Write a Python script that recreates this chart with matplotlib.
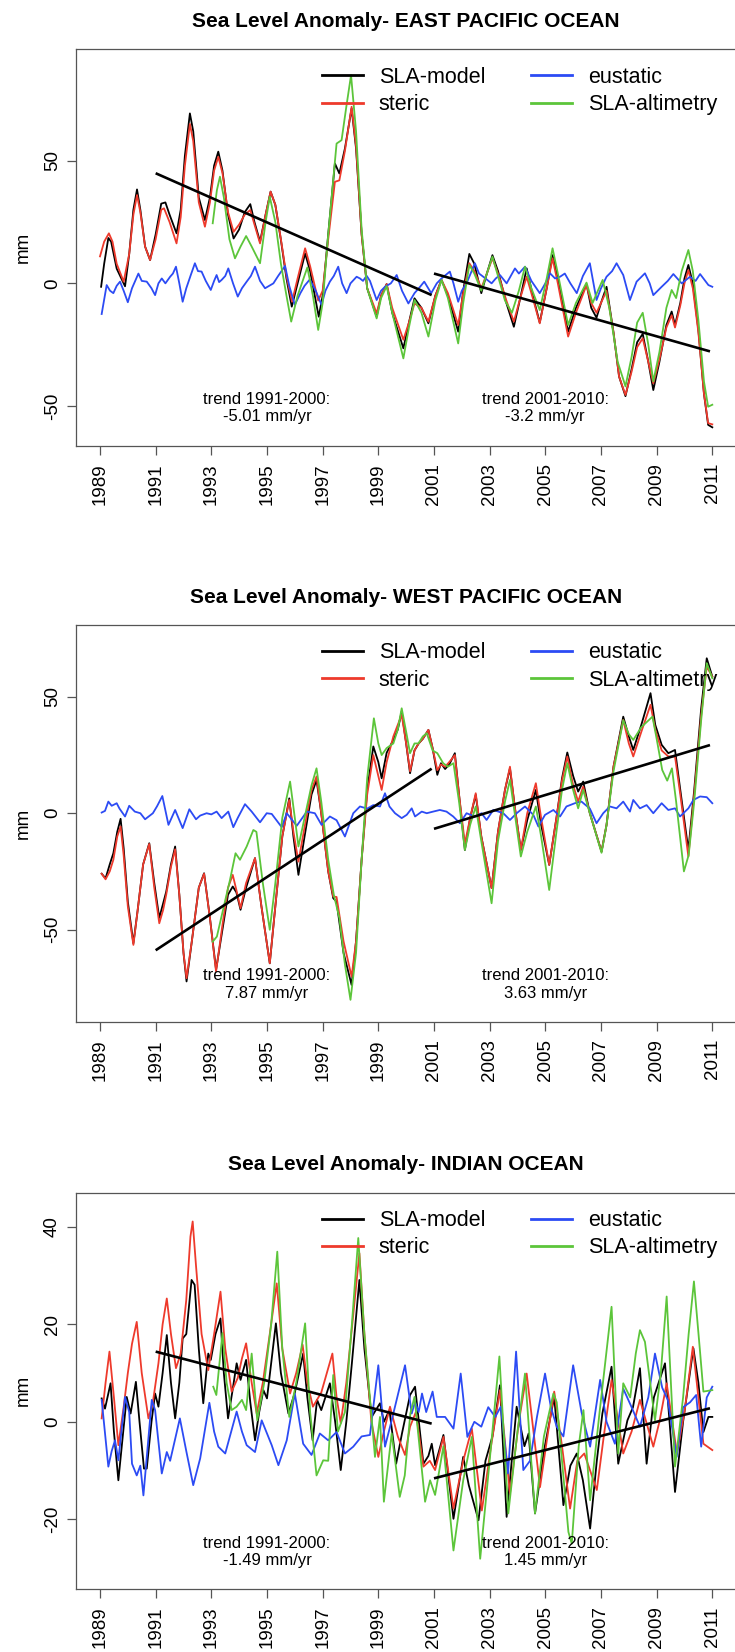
import matplotlib
matplotlib.use("Agg")
import matplotlib.pyplot as plt
import numpy as np

plt.rcParams["font.family"] = ["Liberation Sans", "DejaVu Sans"]

# ---------------------------------------------------------------- data (year, mm)
years_ticks = list(range(1989, 2012, 2))
series_names = ["SLA-model", "steric", "eustatic", "SLA-altimetry"]
trend_periods = [(1991, 2000), (2001, 2010)]
trend_label_years = [1995, 2005]

# East Pacific
east_model = [
    (1989.04, -1.4), (1989.15, 8), (1989.3, 18.5), (1989.4, 17), (1989.6, 6), (1989.9, -1.2),
    (1990.05, 12), (1990.2, 30), (1990.33, 38.3), (1990.45, 30), (1990.62, 15), (1990.8, 9.5),
    (1991.0, 20), (1991.2, 32.5), (1991.35, 33), (1991.5, 28), (1991.75, 20.4), (1991.9, 30),
    (1992.05, 52), (1992.23, 69.3), (1992.35, 62), (1992.55, 35), (1992.77, 25.8), (1992.95, 35),
    (1993.1, 48), (1993.25, 53.7), (1993.4, 46), (1993.6, 28), (1993.8, 18.3), (1994.0, 22),
    (1994.2, 29), (1994.4, 32.3), (1994.55, 25), (1994.75, 17), (1994.95, 28), (1995.13, 37.4),
    (1995.3, 32), (1995.5, 17.7), (1995.7, 2), (1995.89, -9.5), (1996.1, 0), (1996.37, 12.2),
    (1996.55, 5), (1996.86, -13.6), (1997.0, -5), (1997.2, 20), (1997.44, 48.9), (1997.6, 44.8),
    (1997.8, 55), (1998.04, 71.3), (1998.2, 55), (1998.4, 20), (1998.6, -2), (1998.94, -13.6),
    (1999.1, -5), (1999.3, -0.3), (1999.5, -12), (1999.9, -26.5), (2000.1, -16), (2000.3, -6.1),
    (2000.55, -10), (2000.8, -16.3), (2001.05, -5), (2001.27, 1.4), (2001.5, -5), (2001.87, -19.7),
    (2002.05, -3), (2002.27, 12), (2002.45, 8), (2002.7, -4), (2002.9, 4), (2003.1, 11.5),
    (2003.3, 5), (2003.6, -8), (2003.87, -17.7), (2004.1, -6), (2004.33, 6.1), (2004.55, -5),
    (2004.8, -16), (2005.05, -2), (2005.26, 11.5), (2005.45, 2), (2005.82, -19.7), (2006.1, -10),
    (2006.48, -0.3), (2006.65, -10), (2006.84, -14), (2007.0, -8), (2007.2, -1.4), (2007.45, -20),
    (2007.65, -38), (2007.88, -46), (2008.1, -35), (2008.3, -24), (2008.5, -20.6), (2008.7, -32),
    (2008.88, -43.5), (2009.1, -32), (2009.35, -17), (2009.54, -11.5), (2009.66, -17), (2009.85, -8),
    (2010.0, 2), (2010.14, 7.5), (2010.3, 0), (2010.5, -19), (2010.7, -45), (2010.85, -57.7),
    (2011.0, -58.7),
]
east_steric = [
    (1989.0, 11), (1989.15, 17), (1989.32, 20.4), (1989.45, 17), (1989.6, 8), (1989.85, 0.7),
    (1990.05, 12), (1990.2, 28), (1990.33, 36), (1990.45, 29), (1990.62, 15), (1990.8, 9.5),
    (1991.0, 18), (1991.2, 30), (1991.3, 30.6), (1991.5, 25), (1991.75, 16.3), (1991.9, 27),
    (1992.05, 48), (1992.23, 65), (1992.35, 58), (1992.55, 33), (1992.77, 23.1), (1992.95, 33),
    (1993.1, 46), (1993.25, 51.6), (1993.4, 45), (1993.6, 29), (1993.8, 21), (1994.0, 24),
    (1994.2, 28), (1994.4, 29.9), (1994.55, 24), (1994.75, 16.3), (1994.95, 28), (1995.13, 37.4),
    (1995.3, 32), (1995.5, 18), (1995.7, 3), (1995.9, -7.5), (1996.1, 2), (1996.37, 14.3),
    (1996.55, 7), (1996.84, -7), (1997.0, -3), (1997.2, 18), (1997.44, 41.4), (1997.6, 42),
    (1997.8, 54), (1998.04, 72), (1998.2, 56), (1998.4, 20), (1998.6, -2), (1998.94, -12.2),
    (1999.1, -5), (1999.3, -0.3), (1999.5, -10), (1999.9, -23), (2000.1, -16), (2000.3, -8.2),
    (2000.55, -10), (2000.8, -15.6), (2001.05, -5), (2001.27, 1.4), (2001.5, -4), (2001.87, -17),
    (2002.05, -4), (2002.27, 8.2), (2002.45, 5), (2002.7, -2), (2002.9, 4), (2003.1, 10.2),
    (2003.3, 4), (2003.6, -7), (2003.87, -15.6), (2004.1, -6), (2004.33, 2.7), (2004.55, -6),
    (2004.8, -16.3), (2005.05, -2), (2005.26, 10.2), (2005.45, 0), (2005.82, -21.7), (2006.1, -12),
    (2006.48, -0.7), (2006.65, -8), (2006.84, -12), (2007.0, -8), (2007.2, -3), (2007.45, -20),
    (2007.65, -38), (2007.88, -45.5), (2008.1, -36), (2008.3, -26), (2008.5, -22.4), (2008.7, -32),
    (2008.88, -40.8), (2009.1, -31), (2009.35, -18), (2009.54, -13), (2009.66, -18), (2009.85, -9),
    (2010.0, 0), (2010.14, 5.4), (2010.3, -2), (2010.5, -20), (2010.7, -45), (2010.85, -57),
    (2011.0, -57.5),
]
east_eustatic = [
    (1989.06, -12.5), (1989.24, -0.7), (1989.36, -3), (1989.48, -4), (1989.6, -1), (1989.72, 0.7),
    (1989.85, -3), (1990.0, -7.7), (1990.15, -2), (1990.38, 4), (1990.5, 1), (1990.68, 0.7),
    (1990.85, -2), (1990.98, -4.8), (1991.1, 0), (1991.22, 2), (1991.35, 0), (1991.52, 2.7),
    (1991.62, 4), (1991.73, 6.8), (1991.85, 0), (1991.97, -7.5), (1992.1, -2), (1992.25, 3),
    (1992.41, 8.2), (1992.52, 5), (1992.65, 4.8), (1992.8, 1), (1992.98, -2.7), (1993.1, 1),
    (1993.19, 3.4), (1993.28, 0.5), (1993.37, 1.4), (1993.5, 3), (1993.61, 6.1), (1993.78, 0),
    (1993.95, -5.4), (1994.1, -2), (1994.27, 0.7), (1994.42, 3), (1994.57, 6.8), (1994.75, 1),
    (1994.93, -2), (1995.08, -1), (1995.23, 0), (1995.4, 3), (1995.65, 7.1), (1995.8, -1),
    (1996.0, -8.8), (1996.2, -4), (1996.35, -1), (1996.54, 1.6), (1996.75, -3), (1996.96, -8.8),
    (1997.1, -3), (1997.26, 0.7), (1997.4, 3), (1997.56, 6.8), (1997.7, 0), (1997.86, -4),
    (1998.0, 0), (1998.22, 2.7), (1998.34, 2), (1998.45, 1), (1998.58, 3.1), (1998.7, 1),
    (1998.94, -6.8), (1999.1, -3), (1999.24, -1.4), (1999.45, 0), (1999.66, 3.4), (1999.85, -3),
    (2000.08, -8.2), (2000.3, -4), (2000.5, -1.4), (2000.65, 0.7), (2000.9, -4), (2001.1, 0),
    (2001.27, 2), (2001.57, 4.8), (2001.7, 0), (2001.87, -7.5), (2002.0, -3), (2002.17, 0),
    (2002.47, 8.2), (2002.62, 4), (2002.77, 2.7), (2003.07, 0), (2003.22, 2), (2003.37, 3.4),
    (2003.61, 0), (2003.91, 6.1), (2004.05, 4), (2004.27, 6.8), (2004.5, 1), (2004.8, -4),
    (2005.0, 0), (2005.17, 4.1), (2005.35, 2), (2005.53, 2.7), (2005.7, 4), (2005.9, 0),
    (2006.13, -4), (2006.35, 3), (2006.6, 8.2), (2006.84, -6.8), (2007.0, -2), (2007.2, 2.7),
    (2007.4, 5), (2007.56, 8.2), (2007.8, 3.4), (2008.04, -6.8), (2008.28, 0.7), (2008.58, 4.1),
    (2008.75, 0), (2008.88, -4.8), (2009.18, -1.4), (2009.4, 1), (2009.6, 3.8), (2009.9, 0),
    (2010.2, 2.7), (2010.4, 1), (2010.56, 3.8), (2010.86, -0.7), (2011.0, -1.4),
]
east_altimetry = [
    (1993.05, 24.5), (1993.2, 38), (1993.31, 43.5), (1993.45, 35), (1993.65, 18), (1993.85, 10.2),
    (1994.05, 15), (1994.25, 19.3), (1994.45, 15), (1994.75, 8.2), (1994.95, 25), (1995.1, 35.3),
    (1995.3, 25), (1995.5, 8), (1995.7, -5), (1995.87, -15.6), (1996.1, -5), (1996.45, 6.5),
    (1996.65, -5), (1996.84, -19), (1997.0, -8), (1997.2, 20), (1997.5, 57), (1997.68, 58.4),
    (1997.85, 72), (1998.02, 84.9), (1998.2, 62), (1998.4, 22), (1998.6, -2), (1998.94, -14.3),
    (1999.1, -6), (1999.3, -1.1), (1999.5, -12), (1999.9, -30.6), (2000.1, -18), (2000.3, -6.8),
    (2000.55, -12), (2000.8, -21.7), (2001.05, -7), (2001.27, 1.4), (2001.5, -6), (2001.87, -24.5),
    (2002.05, -8), (2002.27, 7.5), (2002.45, 4), (2002.7, -3), (2002.9, 4), (2003.1, 10.9),
    (2003.3, 3), (2003.55, -7), (2003.8, -12), (2004.05, -3), (2004.27, 6.8), (2004.5, -2),
    (2004.8, -10.9), (2005.05, 2), (2005.26, 14.3), (2005.45, 4), (2005.82, -17), (2006.1, -8),
    (2006.48, 0.3), (2006.7, -8), (2006.85, -4), (2007.06, 1.4), (2007.3, -10), (2007.6, -32),
    (2007.88, -42), (2008.1, -30), (2008.3, -16), (2008.5, -12), (2008.7, -25), (2008.88, -40),
    (2009.1, -28), (2009.35, -10), (2009.54, -2.7), (2009.7, -6), (2009.9, 5), (2010.14, 13.6),
    (2010.3, 5), (2010.5, -15), (2010.7, -40), (2010.85, -50.3), (2011.0, -49.5),
]
east_trend_slopes = [-5.01, -3.2]
east_trend_starts = [44.9, 4.0]

# West Pacific
west_model = [
    (1989.06, -26), (1989.2, -28), (1989.35, -22), (1989.48, -17.2), (1989.62, -8), (1989.74, -2.4),
    (1989.85, -15), (1990.0, -38), (1990.2, -55.9), (1990.35, -42), (1990.55, -22), (1990.77, -12.9),
    (1990.95, -30), (1991.13, -45), (1991.27, -38.7), (1991.38, -33.7), (1991.55, -22), (1991.7, -14.3),
    (1991.85, -35), (1992.0, -60), (1992.11, -72.3), (1992.3, -55), (1992.55, -32), (1992.74, -25.8),
    (1992.95, -45), (1993.17, -67.3), (1993.4, -50), (1993.6, -35), (1993.77, -31.5), (1993.9, -34),
    (1994.05, -41.5), (1994.25, -32), (1994.57, -19.3), (1994.8, -40), (1995.1, -64.5), (1995.3, -40),
    (1995.55, -10), (1995.8, 6.4), (1995.95, -10), (1996.13, -26.5), (1996.35, -10), (1996.6, 8),
    (1996.78, 14.3), (1996.95, 0), (1997.2, -25), (1997.38, -36.5), (1997.5, -38), (1997.75, -60),
    (1998.04, -73.8), (1998.2, -55), (1998.4, -20), (1998.6, 10), (1998.82, 28.7), (1999.0, 22),
    (1999.12, 15), (1999.3, 26), (1999.54, 31.5), (1999.7, 36), (1999.84, 43.7), (2000.0, 30),
    (2000.14, 17.2), (2000.3, 27), (2000.45, 30), (2000.6, 32), (2000.8, 35.8), (2000.95, 28),
    (2001.12, 16.5), (2001.25, 21.5), (2001.4, 19), (2001.55, 21), (2001.75, 25.8), (2001.9, 8),
    (2002.11, -15.8), (2002.3, -2), (2002.5, 7.9), (2002.7, -10), (2003.07, -32.2), (2003.3, -8),
    (2003.55, 10), (2003.73, 19.3), (2003.9, 3), (2004.12, -15.8), (2004.35, -3), (2004.66, 10),
    (2004.85, -5), (2005.14, -22.2), (2005.4, -2), (2005.6, 15), (2005.79, 26.1), (2006.0, 16),
    (2006.18, 9.3), (2006.36, 13.6), (2006.6, 0), (2007.02, -16.5), (2007.2, -5), (2007.45, 20),
    (2007.8, 41.5), (2008.0, 33), (2008.16, 27.2), (2008.45, 38), (2008.78, 51.6), (2008.95, 38),
    (2009.18, 29.4), (2009.42, 25.8), (2009.66, 27.2), (2009.85, 10), (2010.14, -15.8), (2010.35, 10),
    (2010.6, 45), (2010.8, 66.6), (2011.0, 58.7),
]
west_steric = [
    (1989.06, -26), (1989.2, -28.4), (1989.35, -25), (1989.48, -20), (1989.62, -10), (1989.74, -5.7),
    (1989.85, -18), (1990.0, -40), (1990.2, -56.6), (1990.35, -42), (1990.55, -22), (1990.77, -13.2),
    (1990.95, -32), (1991.13, -47.3), (1991.27, -41.5), (1991.38, -35), (1991.55, -23), (1991.7, -15.5),
    (1991.85, -35), (1992.0, -60), (1992.11, -70.9), (1992.3, -55), (1992.55, -32), (1992.74, -26),
    (1992.95, -45), (1993.17, -68), (1993.4, -48), (1993.6, -32), (1993.77, -26.5), (1993.9, -33),
    (1994.05, -40.8), (1994.25, -30), (1994.57, -19.3), (1994.8, -40), (1995.1, -64.5), (1995.3, -40),
    (1995.55, -10), (1995.8, 5.7), (1995.95, -8), (1996.13, -20.8), (1996.35, -6), (1996.6, 10),
    (1996.78, 15.8), (1996.95, 0), (1997.2, -25), (1997.38, -35.8), (1997.5, -36), (1997.75, -55),
    (1998.04, -70.2), (1998.2, -55), (1998.4, -20), (1998.6, 8), (1998.82, 25), (1999.0, 16),
    (1999.12, 10), (1999.3, 22), (1999.54, 33), (1999.7, 38), (1999.84, 42.3), (2000.0, 30),
    (2000.14, 18), (2000.3, 27), (2000.45, 30), (2000.6, 32), (2000.8, 35.8), (2000.95, 28),
    (2001.12, 18.5), (2001.25, 21), (2001.4, 20), (2001.55, 22), (2001.75, 25), (2001.9, 8),
    (2002.11, -13), (2002.3, -2), (2002.5, 8.6), (2002.7, -10), (2003.07, -32.2), (2003.3, -8),
    (2003.55, 10), (2003.73, 20), (2003.9, 3), (2004.12, -15.8), (2004.35, 0), (2004.66, 12.9),
    (2004.85, -2), (2005.14, -22.2), (2005.4, -2), (2005.6, 14), (2005.79, 24.4), (2006.0, 12),
    (2006.18, 5), (2006.36, 11.5), (2006.6, 0), (2007.02, -16.5), (2007.2, -5), (2007.45, 20),
    (2007.8, 40.1), (2008.0, 30), (2008.16, 24.4), (2008.45, 35), (2008.78, 46.6), (2008.95, 36),
    (2009.18, 27), (2009.42, 24.4), (2009.66, 24.4), (2009.85, 8), (2010.14, -18.6), (2010.35, 8),
    (2010.6, 42), (2010.8, 63), (2011.0, 58.7),
]
west_eustatic = [
    (1989.06, 0.3), (1989.18, 1), (1989.3, 5), (1989.42, 3.2), (1989.52, 3.8), (1989.6, 4.3),
    (1989.7, 2), (1989.9, -1.4), (1990.05, 3.2), (1990.25, 0.7), (1990.45, 0), (1990.62, -2.6),
    (1990.9, 0), (1991.05, 3), (1991.24, 7.4), (1991.46, -5), (1991.7, 1.4), (1991.97, -6.4),
    (1992.21, 1.7), (1992.45, -2.6), (1992.6, -1), (1992.83, 0), (1993.0, -0.5), (1993.19, 0.7),
    (1993.37, -2.1), (1993.61, 0.7), (1993.79, -6), (1993.95, -2), (1994.21, 3.9), (1994.45, 0.7),
    (1994.75, -3.9), (1994.99, 0), (1995.17, -0.3), (1995.53, -6), (1995.71, 0), (1996.07, -5.4),
    (1996.43, 0.7), (1996.72, 0), (1996.96, -5), (1997.26, -1.4), (1997.5, -3), (1997.8, -10),
    (1998.1, 0), (1998.34, 2.9), (1998.6, 2), (1998.82, 3.5), (1999.06, 2.9), (1999.24, 8.6),
    (1999.4, 2.9), (1999.6, 0), (1999.84, -2.1), (2000.02, -0.7), (2000.2, 2.1), (2000.32, -1.4),
    (2000.56, 0.7), (2000.74, 0), (2000.97, 0.7), (2001.21, 1.4), (2001.45, 0.7), (2001.69, -1.4),
    (2001.93, -4.3), (2002.17, 0), (2002.47, -1.4), (2002.71, 0), (2002.89, -2.9), (2003.13, 1.4),
    (2003.49, 0), (2003.73, -2.9), (2003.97, 0), (2004.27, 2.9), (2004.57, -0.7), (2004.75, -5.7),
    (2004.99, -0.7), (2005.29, 1.4), (2005.53, -1.4), (2005.76, 2.9), (2006.06, 4.3), (2006.3, 5),
    (2006.6, 2), (2006.84, -4.3), (2007.08, 0), (2007.32, 2.9), (2007.56, 2.1), (2007.8, 5),
    (2008.04, 0.7), (2008.16, 5.7), (2008.4, 2.1), (2008.64, 3.5), (2008.88, 0), (2009.18, 4.3),
    (2009.42, 1.4), (2009.66, 2.1), (2009.84, -1.4), (2010.14, 2.1), (2010.32, 5.7), (2010.56, 7.2),
    (2010.8, 6.9), (2011.0, 4.3),
]
west_altimetry = [
    (1993.05, -55.2), (1993.2, -53), (1993.45, -40), (1993.67, -28.7), (1993.87, -17.2), (1994.03, -20),
    (1994.27, -14.3), (1994.51, -7.2), (1994.62, -8), (1994.85, -30), (1995.1, -50.1), (1995.3, -30),
    (1995.55, -2), (1995.83, 13.6), (1996.0, -2), (1996.13, -14.3), (1996.35, -2), (1996.6, 12),
    (1996.78, 19.3), (1996.95, 5), (1997.2, -20), (1997.4, -35), (1997.6, -45), (1997.8, -65),
    (1998.0, -80.2), (1998.2, -60), (1998.4, -20), (1998.6, 15), (1998.84, 40.8), (1999.0, 30),
    (1999.12, 25), (1999.3, 28), (1999.54, 30), (1999.7, 36), (1999.84, 45.1), (2000.0, 35),
    (2000.14, 25.8), (2000.3, 30), (2000.44, 30), (2000.6, 33), (2000.74, 34.4), (2000.95, 27),
    (2001.12, 25.8), (2001.33, 21.5), (2001.5, 20), (2001.7, 21.5), (2001.9, 5), (2002.11, -15.8),
    (2002.3, -5), (2002.5, 2.9), (2002.7, -12), (2003.07, -38.7), (2003.3, -12), (2003.55, 5),
    (2003.73, 14.3), (2003.9, 0), (2004.12, -18.6), (2004.35, -8), (2004.66, 2.9), (2004.85, -10),
    (2005.14, -33), (2005.4, -8), (2005.6, 10), (2005.79, 21.5), (2006.0, 10), (2006.18, 2.1),
    (2006.36, 10), (2006.6, 0), (2007.02, -17), (2007.2, -5), (2007.45, 18), (2007.8, 40),
    (2008.0, 34), (2008.16, 31.5), (2008.45, 37), (2008.85, 41.5), (2009.0, 32), (2009.2, 18.6),
    (2009.38, 14), (2009.55, 19.3), (2009.7, 5), (2009.98, -25), (2010.15, -18), (2010.35, 5),
    (2010.6, 40), (2010.8, 64.5), (2011.0, 58),
]
west_trend_slopes = [7.87, 3.63]
west_trend_starts = [-58.9, -6.7]

# Indian Ocean
indian_model = [
    (1989.06, 4.8), (1989.18, 2.7), (1989.38, 7.9), (1989.5, -2), (1989.66, -12), (1989.8, -4),
    (1989.96, 5.1), (1990.1, 1.7), (1990.29, 8.2), (1990.42, 0), (1990.58, -9.6), (1990.68, -9.6),
    (1990.85, 0), (1990.98, 5.8), (1991.1, 3.1), (1991.25, 10), (1991.4, 17.8), (1991.55, 8),
    (1991.7, 0.7), (1991.85, 8), (1991.97, 17.1), (1992.1, 18), (1992.29, 29.1), (1992.4, 28.1),
    (1992.55, 15), (1992.71, 3.8), (1992.89, 14), (1992.98, 12.7), (1993.15, 18), (1993.33, 21.2),
    (1993.45, 10), (1993.6, 0.7), (1993.75, 6), (1993.91, 12), (1994.05, 8.6), (1994.25, 12.7),
    (1994.4, 4), (1994.57, -3.8), (1994.72, 2), (1994.87, 6.5), (1995.0, 4.8), (1995.15, 12),
    (1995.32, 20.2), (1995.5, 10), (1995.77, 1.7), (1996.0, 6), (1996.3, 14), (1996.45, 5),
    (1996.64, -3.8), (1996.8, 4.5), (1996.95, 2.4), (1997.26, 7.9), (1997.45, 0), (1997.65, -9.9),
    (1997.85, 0), (1998.05, 12), (1998.32, 29.1), (1998.5, 15), (1998.76, 1), (1999.06, 3.8),
    (1999.2, 0), (1999.4, 2.4), (1999.64, -8.6), (1999.85, -2.4), (2000.14, 5.5), (2000.32, 7.2),
    (2000.62, -8.6), (2000.8, -7), (2000.92, -4.5), (2001.04, -8.9), (2001.34, -2.7), (2001.7, -19.9),
    (2002.05, -7.2), (2002.25, -13), (2002.6, -20.2), (2002.85, -8), (2003.1, -3), (2003.37, 7.5),
    (2003.61, -19.5), (2003.97, 3.1), (2004.25, -5), (2004.4, -2.4), (2004.63, -18.8), (2004.95, -6),
    (2005.32, 5.1), (2005.65, -17.1), (2005.9, -9), (2006.13, -6.5), (2006.35, -12), (2006.61, -21.9),
    (2006.85, -8), (2007.05, 1.7), (2007.38, 11.3), (2007.62, -8.6), (2007.95, 0.3), (2008.15, 3),
    (2008.4, 11), (2008.64, -8.6), (2008.9, 5), (2009.3, 12), (2009.66, -14.4), (2009.95, 0),
    (2010.32, 15.1), (2010.5, 8), (2010.68, -2.1), (2010.86, 1), (2011.0, 1),
]
indian_steric = [
    (1989.06, 0.7), (1989.2, 8), (1989.34, 14.4), (1989.5, 5), (1989.66, -4.8), (1989.85, 3),
    (1990.0, 10), (1990.15, 16), (1990.32, 20.5), (1990.5, 10), (1990.74, 0.7), (1990.9, 4),
    (1991.1, 12), (1991.25, 20), (1991.4, 25.3), (1991.55, 18), (1991.73, 11), (1991.9, 14),
    (1992.1, 25), (1992.25, 38), (1992.33, 41.1), (1992.45, 32), (1992.65, 18), (1992.89, 10.6),
    (1993.1, 18), (1993.33, 26.7), (1993.5, 15), (1993.73, 6.2), (1993.95, 9), (1994.1, 13),
    (1994.25, 16.1), (1994.45, 8), (1994.63, 1.7), (1994.85, 8), (1995.1, 18), (1995.35, 28.4),
    (1995.55, 15), (1995.83, 5.8), (1996.05, 10), (1996.28, 15.8), (1996.45, 8), (1996.65, 3.1),
    (1996.95, 6), (1997.15, 10), (1997.35, 14), (1997.5, 5), (1997.65, -0.3), (1997.85, 8),
    (1998.1, 22), (1998.32, 34.6), (1998.5, 18), (1998.75, 0), (1999.0, -7.2), (1999.2, -2),
    (1999.42, 3.1), (1999.7, -3), (1999.96, -6.8), (2000.14, -1), (2000.35, 2), (2000.62, -9.2),
    (2000.85, -8), (2001.04, -9.9), (2001.34, -3.1), (2001.7, -17.8), (2002.05, -8), (2002.36, -1.4),
    (2002.72, -18.2), (2003.05, -5), (2003.37, 6.5), (2003.73, -14.7), (2004.05, 0), (2004.33, 9.9),
    (2004.81, -13.4), (2005.05, -4), (2005.32, 6.2), (2005.6, -5), (2005.89, -17.8), (2006.15, -8),
    (2006.4, -6.5), (2006.85, -14), (2007.1, -3), (2007.38, 8.6), (2007.8, -6.5), (2008.1, -2),
    (2008.4, 4.5), (2008.88, -5.1), (2009.1, 0), (2009.36, 7.9), (2009.73, -6.5), (2010.0, 2),
    (2010.3, 15.4), (2010.5, 5), (2010.68, -4.5), (2011.0, -5.8),
]
indian_eustatic = [
    (1989.06, 4.5), (1989.3, -9.2), (1989.42, -6), (1989.54, -3.8), (1989.66, -7.9), (1989.9, 5.1),
    (1990.05, 2), (1990.15, -8.6), (1990.32, -11), (1990.45, -9), (1990.56, -15.1), (1990.86, 4.5),
    (1990.98, 2.4), (1991.22, -10.6), (1991.4, -6.2), (1991.52, -8), (1991.87, 0.7), (1992.1, -6),
    (1992.35, -13), (1992.6, -7.5), (1992.93, 3.9), (1993.1, -2), (1993.25, -5.1), (1993.5, -6.5),
    (1993.91, 2.1), (1994.1, -2), (1994.27, -4.8), (1994.57, -6.2), (1994.81, 0.3), (1995.17, -4.8),
    (1995.41, -8.9), (1995.71, -3.8), (1996.0, 5.8), (1996.3, -4.5), (1996.6, -6.8), (1996.9, -2.4),
    (1997.2, -3.8), (1997.5, -2.1), (1997.8, -6.5), (1998.1, -5.1), (1998.4, -3), (1998.7, -2.7),
    (1999.0, 11.6), (1999.24, -5.1), (1999.48, 0.3), (1999.96, 11.6), (2000.2, 1.7), (2000.32, 4.1),
    (2000.45, 2), (2000.57, 5.8), (2000.72, 2), (2000.95, 6.2), (2001.1, 1), (2001.4, 1),
    (2001.7, -1.4), (2001.96, 9.9), (2002.2, -3.1), (2002.45, 0), (2002.7, -1), (2002.95, 3),
    (2003.2, 1), (2003.4, 3.1), (2003.66, -10.6), (2003.95, 14.4), (2004.21, -9.9), (2004.45, -8),
    (2004.7, 1), (2004.99, 9.9), (2005.2, 3), (2005.41, -1), (2005.65, -3), (2006.0, 11.6),
    (2006.3, 2), (2006.61, -5.1), (2006.97, 8.6), (2007.2, 0), (2007.5, -4.5), (2007.8, 6.8),
    (2008.1, 3), (2008.4, -1), (2008.7, 5), (2008.94, 14), (2009.2, 7), (2009.4, 4.5),
    (2009.72, -7.2), (2009.95, 3), (2010.2, 4), (2010.42, 5.5), (2010.6, -5.1), (2010.8, 5),
    (2011.0, 7.2),
]
indian_altimetry = [
    (1993.07, 7.2), (1993.18, 5.5), (1993.4, 18.2), (1993.55, 8), (1993.73, 2.4), (1993.91, 3.1),
    (1994.1, 4.5), (1994.25, 2.4), (1994.45, 14), (1994.65, 0.3), (1994.9, 8), (1995.15, 20),
    (1995.37, 34.9), (1995.55, 15), (1995.8, 1), (1996.05, 8), (1996.37, 20.2), (1996.55, 2),
    (1996.78, -11), (1997.02, -7.9), (1997.2, -8), (1997.38, 9.6), (1997.55, -2), (1997.8, 2),
    (1998.05, 20), (1998.28, 37.7), (1998.5, 18), (1998.88, -7.2), (1999.06, 1), (1999.2, -16.4),
    (1999.48, -2.4), (1999.77, -15.4), (1999.95, -11), (2000.15, 1.7), (2000.3, 5.1), (2000.68, -16.4),
    (2000.86, -12), (2001.04, -15), (2001.34, -5), (2001.7, -26.4), (2002.05, -12), (2002.36, -3.1),
    (2002.66, -28.1), (2003.0, -8), (2003.35, 13.4), (2003.67, -18.8), (2004.0, -2), (2004.27, 9.9),
    (2004.63, -18.8), (2004.95, -3), (2005.29, 5.8), (2005.41, 4), (2005.83, -22.6), (2005.95, -25),
    (2006.2, -5), (2006.37, 2.4), (2006.61, -16.1), (2006.95, 2), (2007.15, 12), (2007.38, 23.6),
    (2007.62, -6.5), (2007.8, 7.9), (2008.05, 5), (2008.25, 14), (2008.4, 18.8), (2008.58, 16.4),
    (2008.94, 0.3), (2009.15, 10), (2009.36, 25.7), (2009.66, -9.2), (2009.95, 5), (2010.15, 18),
    (2010.34, 28.8), (2010.55, 15), (2010.68, 6.2), (2011.0, 6.5),
]
indian_trend_slopes = [-1.49, 1.45]
indian_trend_starts = [14.4, -11.6]

# ---------------------------------------------------------------- styling
COLORS = ["#000000", "#EE3A2C", "#2C4BF4", "#5CC53A"]
SERIES_LW = 1.3
TREND_LW = 1.9
TICK_FS = 13.5
LEGEND_FS = 15.5
TEXT_FS = 12
TITLE_FS = 15
FRAME_COLOR = "#555555"

W, H = 735, 1652
fig = plt.figure(figsize=(W / 100, H / 100), dpi=100)

left_px, right_px = 75.5, 736.8
panels = [
    dict(title="Sea Level Anomaly- EAST PACIFIC OCEAN",
         series=[east_model, east_steric, east_eustatic, east_altimetry],
         slopes=east_trend_slopes, starts=east_trend_starts,
         top=49.4, bottom=445.7, ylim=(-66.2, 95.4), yticks=[-50, 0, 50], text_y=-50.8),
    dict(title="Sea Level Anomaly- WEST PACIFIC OCEAN",
         series=[west_model, west_steric, west_eustatic, west_altimetry],
         slopes=west_trend_slopes, starts=west_trend_starts,
         top=625.0, bottom=1021.7, ylim=(-89.6, 80.9), yticks=[-50, 0, 50], text_y=-73.6),
    dict(title="Sea Level Anomaly- INDIAN OCEAN",
         series=[indian_model, indian_steric, indian_eustatic, indian_altimetry],
         slopes=indian_trend_slopes, starts=indian_trend_starts,
         top=1192.7, bottom=1589.0, ylim=(-34.3, 47.0), yticks=[-20, 0, 20, 40], text_y=-26.7),
]

x_pad = 0.04 * (years_ticks[-1] - years_ticks[0])

for p in panels:
    height_px = p["bottom"] - p["top"]
    ax = fig.add_axes([left_px / W, 1 - p["bottom"] / H,
                       (right_px - left_px) / W, height_px / H])
    handles = []
    for data, name, color, z in zip(p["series"], series_names, COLORS, [2, 3, 4, 5]):
        t, v = np.array(data).T
        (ln,) = ax.plot(t, v, color=color, lw=SERIES_LW, zorder=z, label=name,
                        solid_joinstyle="round")
        handles.append(ln)

    # linear trends per decade, drawn from the stated slope
    for (y0, y1), a, s, xt in zip(trend_periods, p["starts"], p["slopes"], trend_label_years):
        tt = np.array([y0, y1 + 11 / 12])
        ax.plot(tt, a + s * (tt - y0), color="black", lw=TREND_LW, zorder=6,
                solid_capstyle="butt")
        ax.text(xt, p["text_y"], f"trend {y0}-{y1}:\n{s:g} mm/yr",
                ha="center", va="center", fontsize=TEXT_FS, linespacing=1.2, zorder=7)

    ax.set_xlim(years_ticks[0] - x_pad, years_ticks[-1] + x_pad)
    ax.set_ylim(*p["ylim"])
    ax.set_xticks(years_ticks)
    ax.set_xticklabels([str(y) for y in years_ticks], rotation=90)
    ax.set_yticks(p["yticks"])
    ax.set_yticklabels([str(v) for v in p["yticks"]], rotation=90, va="center")
    ax.tick_params(axis="both", direction="out", length=6.5, width=0.9,
                   color=FRAME_COLOR, labelsize=TICK_FS)
    ax.tick_params(axis="x", pad=6)
    ax.tick_params(axis="y", pad=4)
    for sp in ax.spines.values():
        sp.set_color(FRAME_COLOR)
        sp.set_linewidth(0.9)

    ax.set_ylabel("mm", fontsize=TICK_FS)
    ax.yaxis.set_label_coords((32 - left_px) / (right_px - left_px), 0.5)
    ax.set_title(p["title"], fontsize=TITLE_FS, fontweight="bold", pad=16)

    leg = ax.legend(handles=handles, ncol=2, loc="upper left",
                    bbox_to_anchor=((321.6 - left_px) / (right_px - left_px),
                                    1 - 17.5 / height_px),
                    frameon=False, fontsize=LEGEND_FS, borderpad=0, borderaxespad=0,
                    handlelength=1.94, handletextpad=0.72, columnspacing=2.1,
                    labelspacing=0.29)
    for hl in leg.get_lines():
        hl.set_linewidth(2.0)

fig.savefig("out.png", dpi=100)
